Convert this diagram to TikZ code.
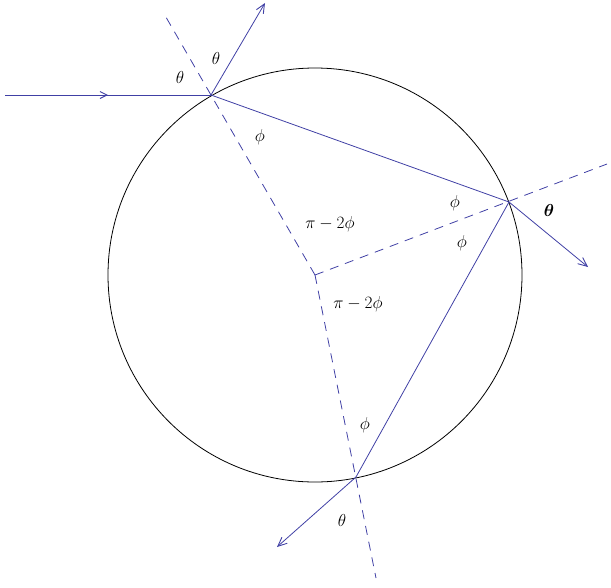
\documentclass[tikz,border=0pt]{standalone}
\usepackage{bm}
\usetikzlibrary{arrows.meta,decorations.markings}
\definecolor{ray}{RGB}{64,64,165}
\begin{document}
\begin{tikzpicture}[x=1pt,y=-1pt,
  raybeam/.style={draw=ray,line width=0.8pt},
  normalline/.style={draw=ray,line width=0.8pt,dash pattern=on 9pt off 7pt},
  tip/.style={-{Straight Barb[length=9pt,width=8pt,line width=0.9pt]}},
  lbl/.style={font=\fontsize{16}{19}\selectfont,inner sep=0pt},
  midarrow/.style={postaction={decorate},decoration={markings,
     mark=at position 0.5 with {\arrow{Straight Barb[length=7pt,width=7pt,line width=0.9pt]}}}}]
\useasboundingbox (0,0) rectangle (611,587);
\coordinate (O) at (315,275);
\coordinate (A) at (211,95);
\coordinate (B) at (509,202);
\coordinate (C) at (356,477);
\coordinate (S) at (5,95);
\coordinate (RA) at (265,3);
\coordinate (RB) at (588,267);
\coordinate (RC) at (277,547);
\coordinate (NA) at (163,12);
\coordinate (NB) at (607,164);
\coordinate (NC) at (376,578);
% droplet
\draw[black,line width=0.8pt] (O) circle[radius=207pt];
% normals
\draw[normalline] (O) -- (NA);
\draw[normalline] (O) -- (NB);
\draw[normalline] (O) -- (NC);
% rays
\draw[raybeam,midarrow] (S) -- (A);
\draw[raybeam,tip] (A) -- (RA);
\draw[raybeam] (A) -- (B);
\draw[raybeam,tip] (B) -- (RB);
\draw[raybeam] (B) -- (C);
\draw[raybeam,tip] (C) -- (RC);
% labels
\node[lbl] (t1) at (180,77) {$\theta$};
\node[lbl] (t2) at (216,58) {$\theta$};
\node[lbl] (p1) at (260,137) {$\phi$};
\node[lbl] (pi1) at (330,224) {$\pi-2\phi$};
\node[lbl] (p2) at (455,203) {$\phi$};
\node[lbl] (t3) at (549,210) {$\bm{\theta}$};
\node[lbl] (p3) at (462,243) {$\phi$};
\node[lbl] (pi2) at (358,304) {$\pi-2\phi$};
\node[lbl] (p4) at (365,425) {$\phi$};
\node[lbl] (t4) at (342,520) {$\theta$};
\end{tikzpicture}
\end{document}
